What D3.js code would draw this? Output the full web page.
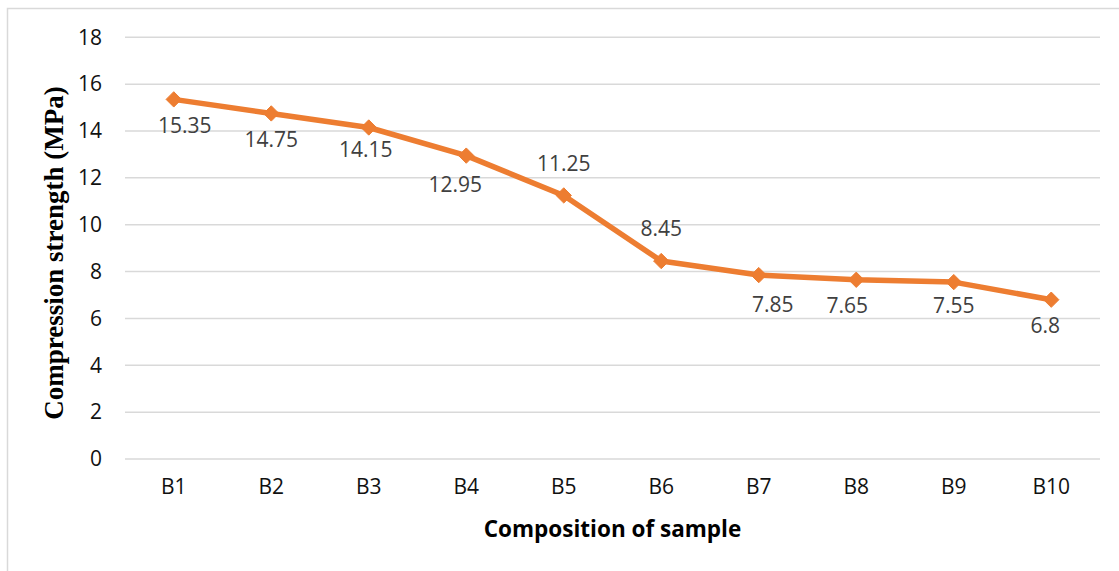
<!DOCTYPE html>
<html>
<head>
<meta charset="utf-8">
<script src="https://cdn.jsdelivr.net/npm/d3@7"></script>
<style>
  html, body { margin: 0; padding: 0; background: #fff; }
  svg { display: block; }
</style>
</head>
<body>
<svg id="chart" width="1119" height="571"></svg>
<script>
// ---- data ----
const categories = ["B1", "B2", "B3", "B4", "B5", "B6", "B7", "B8", "B9", "B10"];
const strength = [15.35, 14.75, 14.15, 12.95, 11.25, 8.45, 7.85, 7.65, 7.55, 6.8];
const yTicks = [0, 2, 4, 6, 8, 10, 12, 14, 16, 18];
const labelPlacement = ["below", "below", "below", "below", "above", "above", "below", "below", "below", "below"];
const labelNudge = [[11, 0], [0, 0], [-3, -4], [-11, 3], [0, 0], [0, 0], [14, 4], [-9, 0], [0, -2], [-6, 0]];
const yTitle = "Compression strength (MPa)";
const xTitle = "Composition of sample";

// ---- layout ----
const W = 1119, H = 571;
const plot = { left: 125, right: 1100, top: 37.3, bottom: 459 };
const svg = d3.select("#chart");
const orange = "#ED7D31";
const sansFont = "'Open Sans', 'Noto Sans', sans-serif";

// outer frame
svg.append("rect")
  .attr("x", 7.5).attr("y", 8.5)
  .attr("width", 1200).attr("height", 700)
  .attr("fill", "#fff").attr("stroke", "#d9d9d9").attr("stroke-width", 1.5);

const x = d3.scaleBand().domain(categories).range([plot.left, plot.right]);
const y = d3.scaleLinear().domain([0, 18]).range([plot.bottom, plot.top]);

// gridlines
svg.append("g").selectAll("line").data(yTicks).join("line")
  .attr("x1", plot.left).attr("x2", plot.right)
  .attr("y1", d => y(d)).attr("y2", d => y(d))
  .attr("stroke", "#d9d9d9").attr("stroke-width", 1.5);

// y axis
const yAxis = svg.append("g")
  .attr("transform", `translate(${plot.left},0)`)
  .call(d3.axisLeft(y).tickValues(yTicks).tickSize(0).tickPadding(23));
yAxis.select(".domain").remove();
yAxis.selectAll("text")
  .attr("font-family", sansFont).attr("font-size", 21).attr("fill", "#111");

// x axis
const xAxis = svg.append("g")
  .attr("transform", `translate(0,${plot.bottom})`)
  .call(d3.axisBottom(x).tickSize(0).tickPadding(20));
xAxis.select(".domain").remove();
xAxis.selectAll("text")
  .attr("font-family", sansFont).attr("font-size", 21).attr("fill", "#111");

// line
const cx = d => x(d) + x.bandwidth() / 2;
const pts = categories.map((c, i) => ({ c, v: strength[i], i }));
svg.append("path")
  .datum(pts)
  .attr("fill", "none").attr("stroke", orange).attr("stroke-width", 5.5)
  .attr("stroke-linejoin", "round")
  .attr("d", d3.line().x(d => cx(d.c)).y(d => y(d.v)));

// markers
svg.append("g").selectAll("path").data(pts).join("path")
  .attr("transform", d => `translate(${cx(d.c)},${y(d.v)})`)
  .attr("d", d3.symbol().type(d3.symbolDiamond2).size(150))
  .attr("fill", orange).attr("stroke", orange).attr("stroke-width", 1);

// data labels
svg.append("g").selectAll("text").data(pts).join("text")
  .attr("x", d => cx(d.c) + labelNudge[d.i][0])
  .attr("y", d => y(d.v) + labelNudge[d.i][1] + (labelPlacement[d.i] === "above" ? -32 : 26))
  .attr("dy", "0.35em")
  .attr("text-anchor", "middle")
  .attr("font-family", sansFont).attr("font-size", 21).attr("fill", "#404040")
  .text(d => d.v);

// axis titles
svg.append("text")
  .attr("transform", `translate(63,253) rotate(-90)`)
  .attr("text-anchor", "middle")
  .attr("font-family", "'Liberation Serif', 'Times New Roman', serif")
  .attr("font-weight", "bold").attr("font-size", 27).attr("fill", "#000")
  .text(yTitle);

svg.append("text")
  .attr("x", (plot.left + plot.right) / 2).attr("y", 537)
  .attr("text-anchor", "middle")
  .attr("font-family", sansFont).attr("font-weight", "bold")
  .attr("font-size", 22.5).attr("fill", "#000")
  .text(xTitle);
</script>
</body>
</html>
